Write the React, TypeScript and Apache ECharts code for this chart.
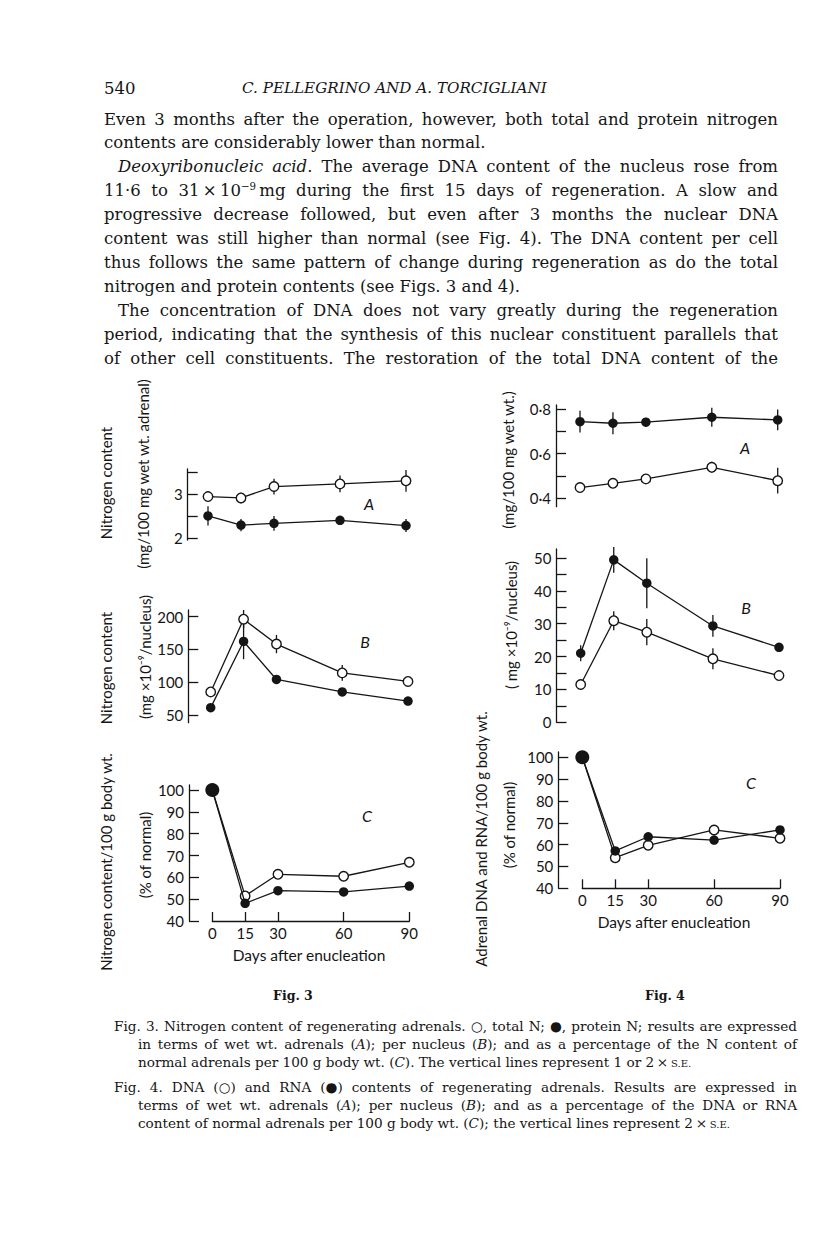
import React, { useEffect, useRef } from "react";
import * as echarts from "echarts";

// ---------- data ----------
const days = [0, 15, 30, 60, 90];
const dayTicks = [0, 15, 30, 60, 90];

// Fig. 3 A (mg/100 mg wet wt. adrenal)
const f3aTotalN = [2.94, 2.91, 3.17, 3.23, 3.3];
const f3aProteinN = [2.5, 2.29, 2.33, 2.4, 2.28];
const f3aTotalErr = [null, 0.12, 0.18, 0.19, 0.25];
const f3aProteinErr = [0.22, 0.14, 0.17, null, 0.15];
const f3aTicks = [2, 2.5, 3, 3.5];
const f3aLabels = [2, 3];

// Fig. 3 B (mg x 10^-9 / nucleus)
const f3bTotalN = [85, 196, 158, 114, 101];
const f3bProteinN = [61, 162, 104, 85, 71];
const f3bTotalErr = [null, 14, 14, 12, null];
const f3bProteinErr = [null, 27, null, null, null];
const f3bTicks = [50, 100, 150, 200];

// Fig. 3 C (% of normal)
const f3cTotalN = [100, 51.5, 61.4, 60.5, 66.9];
const f3cProteinN = [100, 48.1, 53.9, 53.3, 56];
const pctTicks = [40, 50, 60, 70, 80, 90, 100];

// Fig. 4 A (mg/100 mg wet wt.)
const f4aDNA = [0.448, 0.467, 0.487, 0.539, 0.479];
const f4aRNA = [0.744, 0.737, 0.742, 0.764, 0.752];
const f4aDNAErr = [null, null, null, 0.025, 0.058];
const f4aRNAErr = [0.049, 0.049, 0.02, 0.043, 0.047];
const f4aTicks = [0.4, 0.5, 0.6, 0.7, 0.8];
const f4aLabels = [0.4, 0.6, 0.8];

// Fig. 4 B (mg x 10^-9 / nucleus)
const f4bDNA = [11.5, 30.9, 27.4, 19.3, 14.2];
const f4bRNA = [21, 49.4, 42.3, 29.3, 22.8];
const f4bDNAErr = [null, 2.9, 4, 3.2, null];
const f4bRNAErr = [2.4, 3.9, 7.6, 3.3, null];
const f4bTicks = [0, 5, 10, 15, 20, 25, 30, 35, 40, 45, 50];
const f4bLabels = [0, 10, 20, 30, 40, 50];

// Fig. 4 C (% of normal)
const f4cDNA = [100, 54, 59.7, 66.7, 62.9];
const f4cRNA = [100, 57.1, 63.6, 62.1, 66.7];

// ---------- text ----------
const headerNum = "540";
const headerTitle = "C. PELLEGRINO AND A. TORCIGLIANI";
const bodyLines = [
  { t: "Even 3 months after the operation, however, both total and protein nitrogen", ind: 0, j: true },
  { t: "contents are considerably lower than normal.", ind: 0, j: false },
  { t: "_Deoxyribonucleic acid_. The average DNA content of the nucleus rose from", ind: 14, j: true },
  { t: "11·6 to 31\u2009×\u200910^−9^\u2009mg during the first 15 days of regeneration.  A slow and", ind: 0, j: true },
  { t: "progressive decrease followed, but even after 3 months the nuclear DNA", ind: 0, j: true },
  { t: "content was still higher than normal (see Fig. 4). The DNA content per cell", ind: 0, j: true },
  { t: "thus follows the same pattern of change during regeneration as do the total", ind: 0, j: true },
  { t: "nitrogen and protein contents (see Figs. 3 and 4).", ind: 0, j: false },
  { t: "The concentration of DNA does not vary greatly during the regeneration", ind: 14, j: true },
  { t: "period, indicating that the synthesis of this nuclear constituent parallels that", ind: 0, j: true },
  { t: "of other cell constituents. The restoration of the total DNA content of the", ind: 0, j: true },
];
const captionLines = [
  { t: "Fig. 3. Nitrogen content of regenerating adrenals. ○, total N; ●, protein N; results are expressed", ind: 0, j: true },
  { t: "in terms of wet wt. adrenals (_A_); per nucleus (_B_); and as a percentage of the N content of", ind: 24, j: true },
  { t: "normal adrenals per 100 g body wt. (_C_). The vertical lines represent 1 or 2\u2009×\u2009~s.e.~", ind: 24, j: false },
  { t: "Fig. 4. DNA (○) and RNA (●) contents of regenerating adrenals. Results are expressed in", ind: 0, j: true },
  { t: "terms of wet wt. adrenals (_A_); per nucleus (_B_); and as a percentage of the DNA or RNA", ind: 24, j: true },
  { t: "content of normal adrenals per 100 g body wt. (_C_); the vertical lines represent 2\u2009×\u2009~s.e.~", ind: 24, j: false },
];

const SERIF = "DejaVu Serif";
const SANS = "Lato";
const INK = "#151515";

type Run = { t: string; it: boolean; sup: boolean; sc: boolean };

function parseLine(line: string): Run[][] {
  const words: Run[][] = [];
  let cur: Run[] = [];
  let buf = "";
  let it = false, sup = false, sc = false;
  const pushRun = () => {
    if (buf) cur.push({ t: buf, it, sup, sc });
    buf = "";
  };
  for (const ch of line) {
    if (ch === " ") {
      pushRun();
      if (cur.length) words.push(cur);
      cur = [];
    } else if (ch === "_") { pushRun(); it = !it; }
    else if (ch === "^") { pushRun(); sup = !sup; }
    else if (ch === "~") { pushRun(); sc = !sc; }
    else buf += ch;
  }
  pushRun();
  if (cur.length) words.push(cur);
  return words;
}

function layoutLine(
  ctx: CanvasRenderingContext2D,
  line: string,
  x0: number,
  x1: number,
  yc: number,
  size0: number,
  justify: boolean,
  out: any[],
  weight = "normal",
  fit = false
) {
  const words = parseLine(line);
  const txt = (r: Run) => (r.sc ? r.t.toUpperCase() : r.t);
  const measureAll = (size: number) => {
    const sizeOf = (r: Run) => (r.sup ? size * 0.62 : r.sc ? size * 0.74 : size);
    const fontOf = (r: Run) => `${r.it ? "italic " : ""}${weight} ${sizeOf(r)}px "${SERIF}"`;
    const widths = words.map((w) =>
      w.map((r) => {
        ctx.font = fontOf(r);
        return ctx.measureText(txt(r)).width;
      })
    );
    const total = widths.reduce((a, w) => a + w.reduce((b, c) => b + c, 0), 0);
    ctx.font = `${weight} ${size}px "${SERIF}"`;
    const sp = ctx.measureText(" ").width;
    return { widths, total, sp, sizeOf };
  };
  let size = size0;
  let m = measureAll(size);
  const avail = x1 - x0;
  if (fit) {
    size = size * (avail - m.sp * (words.length - 1)) / m.total;
    m = measureAll(size);
  } else if (justify) {
    const need = m.total + (words.length - 1) * m.sp * 0.6;
    if (need > avail) {
      size = size * (avail - (words.length - 1) * m.sp * 0.6) / m.total;
      m = measureAll(size);
    }
  }
  let gap = justify && words.length > 1 ? (avail - m.total) / (words.length - 1) : m.sp;
  let x = x0;
  words.forEach((w, wi) => {
    w.forEach((r, ri) => {
      const s = m.sizeOf(r);
      const y = yc + 0.35 * (size - s) - (r.sup ? 0.4 * size : 0);
      out.push({
        type: "text",
        x,
        y,
        silent: true,
        style: {
          text: txt(r),
          fill: INK,
          fontSize: s,
          fontFamily: SERIF,
          fontStyle: r.it ? "italic" : "normal",
          fontWeight: weight,
          align: "left",
          verticalAlign: "middle",
        },
      });
      x += m.widths[wi][ri];
    });
    x += gap;
  });
}

type Panel = {
  axisX: number; x0: number; x90: number; top: number; bot: number;
  min: number; max: number; ticks: number[]; labels: number[];
  dot: boolean; xShown: boolean; big: boolean;
  open: number[]; filled: number[];
  openErr: (number | null)[] | null; filledErr: (number | null)[] | null;
};

const panels: Panel[] = [
  { axisX: 187.7, x0: 208, x90: 406, top: 469, bot: 540, min: 1.95, max: 3.57, ticks: f3aTicks, labels: f3aLabels, dot: false, xShown: false, big: false, open: f3aTotalN, filled: f3aProteinN, openErr: f3aTotalErr, filledErr: f3aProteinErr },
  { axisX: 188.3, x0: 210.7, x90: 408, top: 610, bot: 722.7, min: 38, max: 210, ticks: f3bTicks, labels: f3bTicks, dot: false, xShown: false, big: false, open: f3bTotalN, filled: f3bProteinN, openErr: f3bTotalErr, filledErr: f3bProteinErr },
  { axisX: 189, x0: 212.3, x90: 409.3, top: 785, bot: 921, min: 40, max: 102.3, ticks: pctTicks, labels: pctTicks, dot: false, xShown: true, big: true, open: f3cTotalN, filled: f3cProteinN, openErr: null, filledErr: null },
  { axisX: 556, x0: 580, x90: 777.7, top: 405, bot: 506.7, min: 0.362, max: 0.819, ticks: f4aTicks, labels: f4aLabels, dot: true, xShown: false, big: false, open: f4aDNA, filled: f4aRNA, openErr: f4aDNAErr, filledErr: f4aRNAErr },
  { axisX: 556.5, x0: 580.7, x90: 779, top: 549, bot: 722.3, min: 0, max: 52.7, ticks: f4bTicks, labels: f4bLabels, dot: false, xShown: false, big: false, open: f4bDNA, filled: f4bRNA, openErr: f4bDNAErr, filledErr: f4bRNAErr },
  { axisX: 558.3, x0: 582.3, x90: 780, top: 752, bot: 888.3, min: 40, max: 102.4, ticks: pctTicks, labels: pctTicks, dot: false, xShown: true, big: true, open: f4cDNA, filled: f4cRNA, openErr: null, filledErr: null },
];

const axisTitles = [
  { t: "Nitrogen content", x: 106, y: 483 },
  { t: "(mg/100 mg wet wt. adrenal)", x: 143, y: 474 },
  { t: "Nitrogen content", x: 106, y: 668 },
  { t: "(mg ×10⁻⁹/nucleus)", x: 145, y: 657 },
  { t: "Nitrogen content/100 g body wt.", x: 106, y: 862 },
  { t: "(% of normal)", x: 145, y: 855 },
  { t: "(mg/100 mg wet wt.)", x: 508, y: 460 },
  { t: "( mg ×10⁻⁹/nucleus)", x: 511, y: 625 },
  { t: "Adrenal DNA and RNA/100 g body wt.", x: 481, y: 839 },
  { t: "(% of normal)", x: 509, y: 825 },
];
const panelLetters = [
  { t: "A", x: 369, y: 503 }, { t: "B", x: 365, y: 641 }, { t: "C", x: 367, y: 815 },
  { t: "A", x: 745, y: 447 }, { t: "B", x: 746, y: 607 }, { t: "C", x: 751, y: 782 },
];
const xTitles = [
  { t: "Days after enucleation", x: 309, y: 955 },
  { t: "Days after enucleation", x: 674, y: 922 },
];

export default function App() {
  const ref = useRef<HTMLDivElement>(null);
  useEffect(() => {
    if (!ref.current) return;
    const chart = echarts.init(ref.current, undefined, { renderer: "svg" });
    const canvas = document.createElement("canvas");
    const ctx = canvas.getContext("2d") as CanvasRenderingContext2D;

    const g: any[] = [];
    // header
    layoutLine(ctx, headerNum, 104, 778, 88, 16.5, false, g);
    layoutLine(ctx, "_" + headerTitle + "_", 242, 548, 88, 16, false, g, "normal", true);
    bodyLines.forEach((l, i) => layoutLine(ctx, l.t, 104 + l.ind, 778, 119 + i * 23.9, 16.5, l.j, g));
    // figure labels
    layoutLine(ctx, "Fig. 3", 273, 313, 995, 13, false, g, "bold", true);
    layoutLine(ctx, "Fig. 4", 645, 685, 995, 13, false, g, "bold", true);
    const capY = [1026, 1044, 1062, 1087, 1105, 1123];
    captionLines.forEach((l, i) => layoutLine(ctx, l.t, 114 + l.ind, 797, capY[i], 13.6, l.j, g));

    axisTitles.forEach((a) =>
      g.push({
        type: "text", x: a.x, y: a.y, rotation: Math.PI / 2, silent: true,
        style: { text: a.t, fill: INK, fontSize: 15, fontFamily: SANS, align: "center", verticalAlign: "middle" },
      })
    );
    panelLetters.forEach((a) =>
      g.push({
        type: "text", x: a.x, y: a.y, silent: true,
        style: { text: a.t, fill: INK, fontSize: 16, fontStyle: "italic", fontFamily: SANS, align: "center", verticalAlign: "middle" },
      })
    );
    xTitles.forEach((a) =>
      g.push({
        type: "text", x: a.x, y: a.y, silent: true,
        style: { text: a.t, fill: INK, fontSize: 15.5, fontFamily: SANS, align: "center", verticalAlign: "middle" },
      })
    );

    const lineStyle = { color: INK, width: 1.3 };
    const grids: any[] = [];
    const xAxes: any[] = [];
    const yAxes: any[] = [];
    const series: any[] = [];

    const errSeries = (i: number, vals: number[], errs: (number | null)[] | null) => {
      if (!errs) return;
      const data: number[][] = [];
      days.forEach((d, k) => {
        const e = errs[k];
        if (e != null) data.push([d, vals[k] - e, vals[k] + e]);
      });
      series.push({
        type: "custom",
        xAxisIndex: i,
        yAxisIndex: i,
        clip: false,
        z: 1,
        silent: true,
        encode: { x: 0, y: [1, 2] },
        data,
        renderItem: (params: any, api: any) => {
          const p1 = api.coord([api.value(0), api.value(1)]);
          const p2 = api.coord([api.value(0), api.value(2)]);
          return {
            type: "line",
            shape: { x1: p1[0], y1: p1[1], x2: p2[0], y2: p2[1] },
            style: { stroke: INK, lineWidth: 1.3 },
          };
        },
      });
    };

    panels.forEach((p, i) => {
      grids.push({ left: p.x0, top: p.top, width: p.x90 - p.x0, height: p.bot - p.top });
      xAxes.push({
        gridIndex: i, type: "value", min: 0, max: 90, show: p.xShown,
        axisLine: { show: true, onZero: false, lineStyle },
        axisTick: { show: true, inside: true, length: 9, customValues: dayTicks, lineStyle },
        axisLabel: { customValues: dayTicks, margin: 4, fontSize: 15, fontFamily: SANS, color: INK },
        splitLine: { show: false },
      });
      yAxes.push({
        gridIndex: i, type: "value", min: p.min, max: p.max, offset: p.x0 - p.axisX,
        axisLine: { show: true, onZero: false, lineStyle },
        axisTick: { show: true, inside: true, length: 10, customValues: p.ticks, lineStyle },
        axisLabel: {
          customValues: p.labels, margin: 5, fontSize: 15, fontFamily: SANS, color: INK,
          formatter: (v: number) => (p.dot ? v.toFixed(1).replace(".", "·") : String(v)),
        },
        splitLine: { show: false },
      });
      errSeries(i, p.open, p.openErr);
      errSeries(i, p.filled, p.filledErr);
      series.push({
        type: "line", xAxisIndex: i, yAxisIndex: i, clip: false, z: 3, silent: true,
        data: days.map((d, k) => [d, p.open[k]]),
        symbol: "circle", symbolSize: 9.5, showSymbol: true,
        lineStyle, itemStyle: { color: "#ffffff", borderColor: INK, borderWidth: 1.4 },
      });
      series.push({
        type: "line", xAxisIndex: i, yAxisIndex: i, clip: false, z: 4, silent: true,
        data: days.map((d, k) => [d, p.filled[k]]),
        symbol: "circle",
        symbolSize: (_v: any, prm: any) => (p.big && prm.dataIndex === 0 ? 14 : 9.5),
        showSymbol: true,
        lineStyle, itemStyle: { color: INK, borderColor: INK, borderWidth: 0 },
      });
    });

    chart.setOption({
      animation: false,
      backgroundColor: "#ffffff",
      grid: grids,
      xAxis: xAxes,
      yAxis: yAxes,
      series,
      graphic: { elements: g },
    });
    return () => chart.dispose();
  }, []);
  return (
    <div
      ref={ref}
      style={{ position: "absolute", left: 0, top: 0, width: 816, height: 1258, background: "#fff" }}
    />
  );
}
